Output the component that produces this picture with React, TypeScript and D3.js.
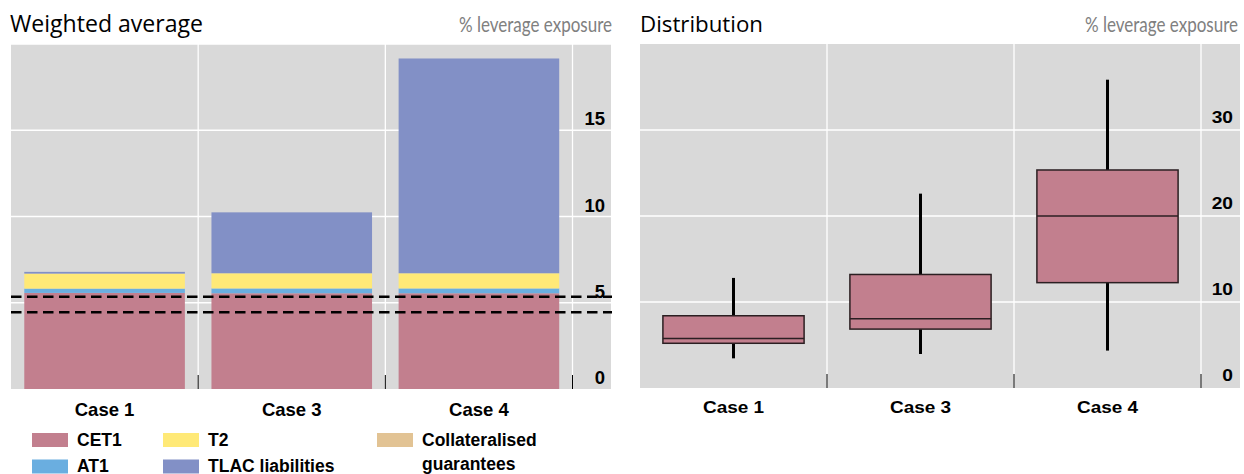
import React from "react";
import * as d3 from "d3";

const categories = ["Case 1", "Case 3", "Case 4"];
const seriesNames = ["CET1", "AT1", "T2", "TLAC liabilities", "Collateralised guarantees"];
const cet1 = [5.57, 5.55, 5.55];
const at1 = [0.25, 0.28, 0.28];
const t2 = [0.87, 0.88, 0.88];
const tlac = [0.1, 3.53, 12.45];
const collateral = [0, 0, 0];
const thresholds = [5.35, 4.45];
const leftTicks = [0, 5, 10, 15];

const boxLow = [3.45, 3.95, 4.35];
const boxQ1 = [5.2, 6.85, 12.25];
const boxMedian = [5.75, 8.05, 20.0];
const boxQ3 = [8.4, 13.2, 25.35];
const boxHigh = [12.8, 22.6, 35.85];
const rightTicks = [0, 10, 20, 30];

const colors = ["#c27f8e", "#6aaee0", "#ffe977", "#8290c6", "#e2c394"];

const BG = "#d9d9d9";
const TITLE_FONT = "'Open Sans', 'Noto Sans', sans-serif";
const SUB_FONT = "Lato, 'Open Sans', sans-serif";
const LABEL_FONT = "'Liberation Sans', Arial, sans-serif";

export default function App() {
  // ---------- left chart ----------
  const xL = d3.scaleBand<string>().domain(categories).range([11, 572.5]).padding(0);
  const yL = d3.scaleLinear().domain([0, 20]).range([389, 44]);
  const barW = xL.bandwidth() * 0.858;

  const rows = categories.map((c, i) => ({
    cat: c,
    "CET1": cet1[i],
    "AT1": at1[i],
    "T2": t2[i],
    "TLAC liabilities": tlac[i],
    "Collateralised guarantees": collateral[i],
  }));
  const stacked = d3.stack<any>().keys(seriesNames)(rows);

  // ---------- right chart ----------
  const xR = d3.scaleBand<string>().domain(categories).range([640, 1201]).padding(0);
  const yR = d3.scaleLinear().domain([0, 40]).range([388, 44]);
  const boxW = xR.bandwidth() * 0.755;

  const legend = [
    { name: "CET1", col: 0, row: 0 },
    { name: "AT1", col: 0, row: 1 },
    { name: "T2", col: 1, row: 0 },
    { name: "TLAC liabilities", col: 1, row: 1 },
    { name: "Collateralised guarantees", col: 2, row: 0 },
  ];
  const legendX = [32, 163, 377];

  return (
    <svg
      width={1244}
      height={474}
      style={{ position: "absolute", left: 0, top: 0 }}
      xmlns="http://www.w3.org/2000/svg"
    >
      <rect x={0} y={0} width={1244} height={474} fill="#ffffff" />

      {/* ===== LEFT PANEL ===== */}
      <text x={10} y={32} fontFamily={TITLE_FONT} fontSize={22.8} fill="#000" textLength={193} lengthAdjust="spacingAndGlyphs">
        Weighted average
      </text>
      <text x={612} y={32} fontFamily={SUB_FONT} fontSize={21.5} fill="#808080" textAnchor="end" textLength={153} lengthAdjust="spacingAndGlyphs">
        % leverage exposure
      </text>
      <rect x={11} y={44} width={600} height={345} fill={BG} />
      {leftTicks.filter((t) => t > 0).concat([20]).map((t) => (
        <line key={"lg" + t} x1={11} x2={611} y1={yL(t)} y2={yL(t)} stroke="#fff" strokeWidth={1.3} />
      ))}
      {categories.map((c) => (
        <line
          key={"lv" + c}
          x1={xL(c)! + xL.bandwidth()}
          x2={xL(c)! + xL.bandwidth()}
          y1={44}
          y2={389}
          stroke="#fff"
          strokeWidth={1.3}
        />
      ))}
      {stacked.map((s, si) => (
        <g key={"s" + si}>
          {s.map((d, i) => {
            const h = yL(d[0]) - yL(d[1]);
            if (h <= 0) return null;
            const cx = xL(categories[i])! + xL.bandwidth() / 2;
            return (
              <rect
                key={i}
                x={cx - barW / 2}
                y={yL(d[1])}
                width={barW}
                height={h}
                fill={colors[si]}
              />
            );
          })}
        </g>
      ))}
      {categories.map((c) => (
        <line
          key={"lt" + c}
          x1={xL(c)! + xL.bandwidth()}
          x2={xL(c)! + xL.bandwidth()}
          y1={375}
          y2={389}
          stroke="#000"
          strokeWidth={1}
        />
      ))}
      {thresholds.map((t, i) => (
        <line
          key={"th" + i}
          x1={11}
          x2={612}
          y1={yL(t)}
          y2={yL(t)}
          stroke="#000"
          strokeWidth={2.5}
          strokeDasharray="10.5,5.5"
        />
      ))}
      {leftTicks.map((t) => (
        <text
          key={"ltl" + t}
          x={605}
          y={yL(t) - 5}
          textAnchor="end"
          fontFamily={LABEL_FONT}
          fontWeight="bold"
          fontSize={18.5}
        >
          {t}
        </text>
      ))}
      {categories.map((c) => (
        <text
          key={"lc" + c}
          x={xL(c)! + xL.bandwidth() / 2}
          y={415.5}
          textAnchor="middle"
          fontFamily={LABEL_FONT}
          fontWeight="bold"
          fontSize={18.5}
        >
          {c}
        </text>
      ))}
      {legend.map((l) => {
        const x = legendX[l.col];
        const y = 433 + l.row * 26.5;
        const idx = seriesNames.indexOf(l.name);
        const lines = l.name === "Collateralised guarantees" ? ["Collateralised", "guarantees"] : [l.name];
        return (
          <g key={"lg" + l.name}>
            <rect x={x} y={y} width={36} height={14} fill={colors[idx]} />
            {lines.map((t, k) => (
              <text
                key={k}
                x={x + 45}
                y={y + 12.7 + k * 24}
                fontFamily={LABEL_FONT}
                fontWeight="bold"
                fontSize={17.5}
              >
                {t}
              </text>
            ))}
          </g>
        );
      })}

      {/* ===== RIGHT PANEL ===== */}
      <text x={640} y={32} fontFamily={TITLE_FONT} fontSize={22.5} fill="#000" textLength={123} lengthAdjust="spacingAndGlyphs">
        Distribution
      </text>
      <text x={1238} y={32} fontFamily={SUB_FONT} fontSize={21.5} fill="#808080" textAnchor="end" textLength={153} lengthAdjust="spacingAndGlyphs">
        % leverage exposure
      </text>
      <rect x={640} y={44} width={600} height={344} fill={BG} />
      {rightTicks.filter((t) => t > 0).map((t) => (
        <line key={"rg" + t} x1={640} x2={1240} y1={yR(t)} y2={yR(t)} stroke="#fff" strokeWidth={1.3} />
      ))}
      {categories.map((c) => (
        <line
          key={"rv" + c}
          x1={xR(c)! + xR.bandwidth()}
          x2={xR(c)! + xR.bandwidth()}
          y1={44}
          y2={388}
          stroke="#fff"
          strokeWidth={1.3}
        />
      ))}
      {categories.map((c, i) => {
        const cx = xR(c)! + xR.bandwidth() / 2;
        return (
          <g key={"box" + c}>
            <line x1={cx} x2={cx} y1={yR(boxHigh[i])} y2={yR(boxQ3[i])} stroke="#000" strokeWidth={3} />
            <line x1={cx} x2={cx} y1={yR(boxQ1[i])} y2={yR(boxLow[i])} stroke="#000" strokeWidth={3} />
            <rect
              x={cx - boxW / 2}
              y={yR(boxQ3[i])}
              width={boxW}
              height={yR(boxQ1[i]) - yR(boxQ3[i])}
              fill={colors[0]}
              stroke="#2b1f22"
              strokeWidth={1.5}
            />
            <line
              x1={cx - boxW / 2}
              x2={cx + boxW / 2}
              y1={yR(boxMedian[i])}
              y2={yR(boxMedian[i])}
              stroke="#2b1f22"
              strokeWidth={1.5}
            />
          </g>
        );
      })}
      {categories.map((c) => (
        <line
          key={"rt" + c}
          x1={xR(c)! + xR.bandwidth()}
          x2={xR(c)! + xR.bandwidth()}
          y1={374}
          y2={388}
          stroke="#000"
          strokeWidth={1}
        />
      ))}
      {rightTicks.map((t) => (
        <text
          key={"rtl" + t}
          transform={`translate(1233, ${yR(t) - 7}) scale(1.2, 1)`}
          textAnchor="end"
          fontFamily={LABEL_FONT}
          fontWeight="bold"
          fontSize={16}
        >
          {t}
        </text>
      ))}
      {categories.map((c) => (
        <text
          key={"rc" + c}
          transform={`translate(${xR(c)! + xR.bandwidth() / 2}, 413) scale(1.15, 1)`}
          textAnchor="middle"
          fontFamily={LABEL_FONT}
          fontWeight="bold"
          fontSize={16.5}
        >
          {c}
        </text>
      ))}
    </svg>
  );
}
